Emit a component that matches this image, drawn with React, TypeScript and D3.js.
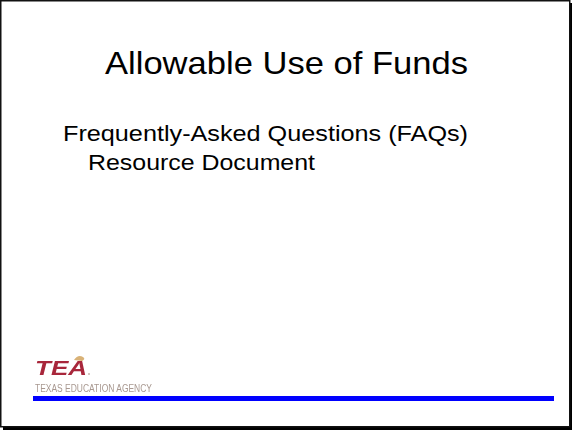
import React, { useRef, useEffect } from 'react';
import * as d3 from 'd3';

const titleLines = ['Allowable Use of Funds'];
const bodyLines = ['Frequently-Asked Questions (FAQs)', 'Resource Document'];
const logoLetters = ['TEA'];
const logoCaption = ['TEXAS EDUCATION AGENCY'];

const App: React.FC = () => {
  const svgRef = useRef<SVGSVGElement>(null);
  const width = 572;
  const height = 430;

  useEffect(() => {
    if (!svgRef.current) return;
    const svg = d3.select(svgRef.current);
    svg.selectAll('*').remove();

    const font = '"Liberation Sans", Arial, sans-serif';

    // blur used to soften the low-res logo
    const defs = svg.append('defs');
    defs.append('filter')
      .attr('id', 'soft')
      .append('feGaussianBlur')
      .attr('stdDeviation', 0.6);

    // Slide background + frame with drop shadow
    svg.append('rect')
      .attr('x', 0).attr('y', 0)
      .attr('width', width).attr('height', height)
      .style('fill', 'white');
    svg.append('rect')
      .attr('x', 3).attr('y', 427)
      .attr('width', width - 3).attr('height', 3)
      .style('fill', 'black');
    svg.append('rect')
      .attr('x', 570).attr('y', 3)
      .attr('width', 2).attr('height', height - 3)
      .style('fill', 'black');
    svg.append('rect')
      .attr('x', 0.75).attr('y', 0.75)
      .attr('width', 569).attr('height', 426)
      .style('fill', 'none')
      .style('stroke', '#111')
      .style('stroke-width', 1.5);

    // Title
    svg.selectAll('text.title')
      .data(titleLines)
      .enter()
      .append('text')
      .attr('class', 'title')
      .attr('x', 105)
      .attr('y', (_, i) => 74 + i * 36)
      .attr('textLength', 363)
      .attr('lengthAdjust', 'spacingAndGlyphs')
      .style('font-family', font)
      .style('font-size', '30.5px')
      .style('fill', 'black')
      .text(d => d);

    // Body lines
    const bodyX = [63, 88];
    const bodyW = [405, 227];
    svg.selectAll('text.body')
      .data(bodyLines)
      .enter()
      .append('text')
      .attr('class', 'body')
      .attr('x', (_, i) => bodyX[i])
      .attr('y', (_, i) => 141 + i * 28.5)
      .attr('textLength', (_, i) => bodyW[i])
      .attr('lengthAdjust', 'spacingAndGlyphs')
      .style('font-family', font)
      .style('font-size', '22px')
      .style('fill', 'black')
      .text(d => d);

    // Logo
    const logo = svg.append('g').attr('filter', 'url(#soft)');
    logo.append('path')
      .attr('d', 'M74,360 q4,-6 9,-3 q3,2 -1,4 z')
      .style('fill', '#d9b277');
    logo.selectAll('text.logo')
      .data(logoLetters)
      .enter()
      .append('text')
      .attr('x', 35)
      .attr('y', 375)
      .attr('textLength', 52)
      .attr('lengthAdjust', 'spacingAndGlyphs')
      .style('font-family', font)
      .style('font-size', '21px')
      .style('font-weight', 'bold')
      .style('font-style', 'italic')
      .style('fill', '#a8283a')
      .text(d => d);
    logo.append('circle')
      .attr('cx', 89).attr('cy', 374).attr('r', 0.8)
      .style('fill', '#a08070');
    logo.selectAll('text.cap')
      .data(logoCaption)
      .enter()
      .append('text')
      .attr('x', 35)
      .attr('y', 392)
      .attr('textLength', 117)
      .attr('lengthAdjust', 'spacingAndGlyphs')
      .style('font-family', font)
      .style('font-size', '10px')
      .style('fill', '#a89890')
      .text(d => d);

    // Blue rule
    svg.append('rect')
      .attr('x', 33).attr('y', 396)
      .attr('width', 521).attr('height', 5)
      .style('fill', '#0000ff');
  }, []);

  return (
    <svg
      ref={svgRef}
      width={width}
      height={height}
      style={{ position: 'absolute', left: 0, top: 0, display: 'block' }}
    />
  );
};

export default App;
